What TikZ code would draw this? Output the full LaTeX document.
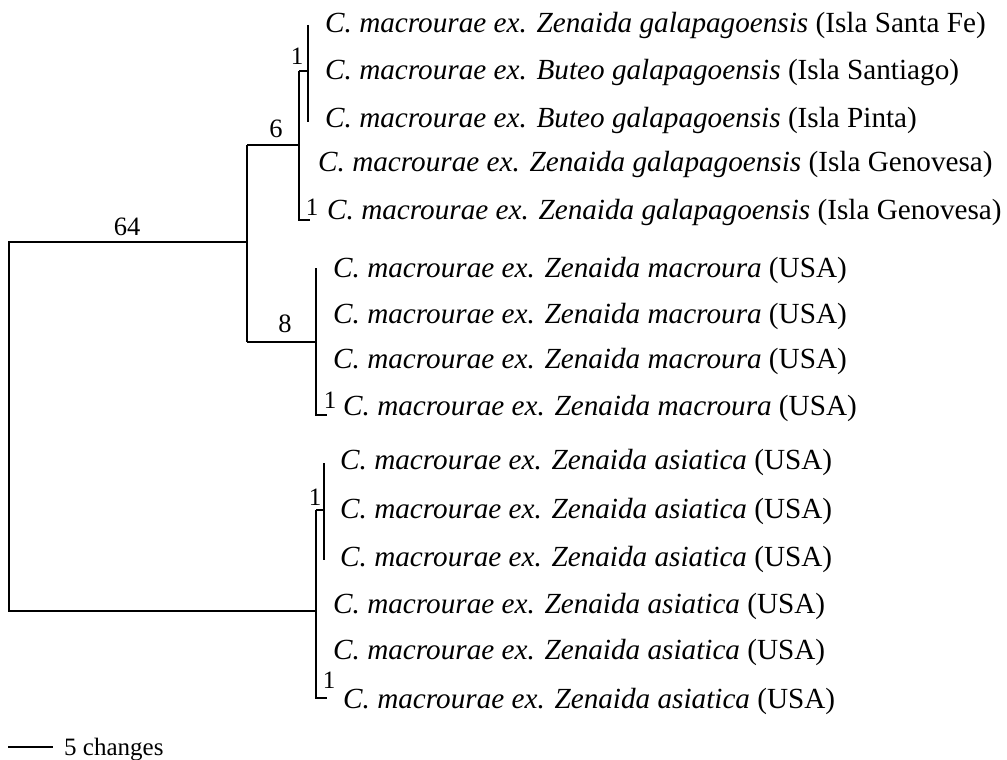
\documentclass[tikz,border=0pt]{standalone}
\usepackage{fontspec}
\setmainfont{Liberation Serif}
\begin{document}
\begin{tikzpicture}[x=1pt,y=-1pt,
  branch/.style={line width=2.6pt},
  taxon/.style={anchor=base west,inner sep=0pt,font=\fontsize{29.2}{31}\selectfont},
  blabel/.style={anchor=base,inner sep=0pt,font=\fontsize{26.5}{28}\selectfont},
  slabel/.style={anchor=center,inner sep=0pt,font=\fontsize{25}{27}\selectfont}]
\useasboundingbox (0,0) rectangle (1007,760);
% internal nodes
\coordinate (R) at (9,242);
\coordinate (Rb) at (9,611);
\coordinate (A) at (247,242);
\coordinate (At) at (247,145);
\coordinate (Ab) at (247,342);
\coordinate (B) at (299,145);
\coordinate (Bt) at (299,71);
\coordinate (Bb) at (299,220);
\coordinate (C) at (308,71);
\coordinate (Ct) at (308,25);
\coordinate (Cb) at (308,122);
\coordinate (L5) at (310,220);
\coordinate (D) at (316,342);
\coordinate (Dt) at (316,268);
\coordinate (Db) at (316,415);
\coordinate (L9) at (327,415);
\coordinate (E) at (316,611);
\coordinate (Et) at (316,510);
\coordinate (Eb) at (316,698);
\coordinate (F) at (324,510);
\coordinate (Ft) at (324,463);
\coordinate (Fb) at (324,560);
\coordinate (L15) at (327,698);
\coordinate (S1) at (8,747);
\coordinate (S2) at (53,747);
% branches
\draw[branch] (A) -- (R) -- (Rb) -- (E);
\draw[branch] (At) -- (Ab);
\draw[branch] (At) -- (B);
\draw[branch] (Bt) -- (Bb) -- (L5);
\draw[branch] (Bt) -- (C);
\draw[branch] (Ct) -- (Cb);
\draw[branch] (Ab) -- (D);
\draw[branch] (Dt) -- (Db) -- (L9);
\draw[branch] (Et) -- (Eb) -- (L15);
\draw[branch] (Et) -- (F);
\draw[branch] (Ft) -- (Fb);
\draw[branch] (S1) -- (S2);
% branch labels
\node[blabel] (l64) at (127,235) {64};
\node[blabel] (l6) at (276,137) {6};
\node[blabel] (l8) at (285,332) {8};
\node[slabel] (lc) at (297,56) {1};
\node[slabel] (l5) at (312,207) {1};
\node[slabel] (l9) at (330,400) {1};
\node[slabel] (lf) at (315,497) {1};
\node[slabel] (l15) at (329,680) {1};
% taxa
\node[taxon] (t1) at (325,33) {\textit{C. macrourae ex. Zenaida galapagoensis} (Isla Santa Fe)};
\node[taxon] (t2) at (325,80) {\textit{C. macrourae ex. Buteo galapagoensis} (Isla Santiago)};
\node[taxon] (t3) at (325,128) {\textit{C. macrourae ex. Buteo galapagoensis} (Isla Pinta)};
\node[taxon] (t4) at (318,171) {\textit{C. macrourae ex. Zenaida galapagoensis} (Isla Genovesa)};
\node[taxon] (t5) at (327,219) {\textit{C. macrourae ex. Zenaida galapagoensis} (Isla Genovesa)};
\node[taxon] (t6) at (333,277) {\textit{C. macrourae ex. Zenaida macroura} (USA)};
\node[taxon] (t7) at (333,323) {\textit{C. macrourae ex. Zenaida macroura} (USA)};
\node[taxon] (t8) at (333,368) {\textit{C. macrourae ex. Zenaida macroura} (USA)};
\node[taxon] (t9) at (343,415) {\textit{C. macrourae ex. Zenaida macroura} (USA)};
\node[taxon] (t10) at (340,469) {\textit{C. macrourae ex. Zenaida asiatica} (USA)};
\node[taxon] (t11) at (340,518) {\textit{C. macrourae ex. Zenaida asiatica} (USA)};
\node[taxon] (t12) at (340,566) {\textit{C. macrourae ex. Zenaida asiatica} (USA)};
\node[taxon] (t13) at (333,613) {\textit{C. macrourae ex. Zenaida asiatica} (USA)};
\node[taxon] (t14) at (333,659) {\textit{C. macrourae ex. Zenaida asiatica} (USA)};
\node[taxon] (t15) at (343,708) {\textit{C. macrourae ex. Zenaida asiatica} (USA)};
\node[anchor=base west,inner sep=0pt,font=\fontsize{25}{27}\selectfont] (sc) at (64,755) {5 changes};
\end{tikzpicture}
\end{document}
